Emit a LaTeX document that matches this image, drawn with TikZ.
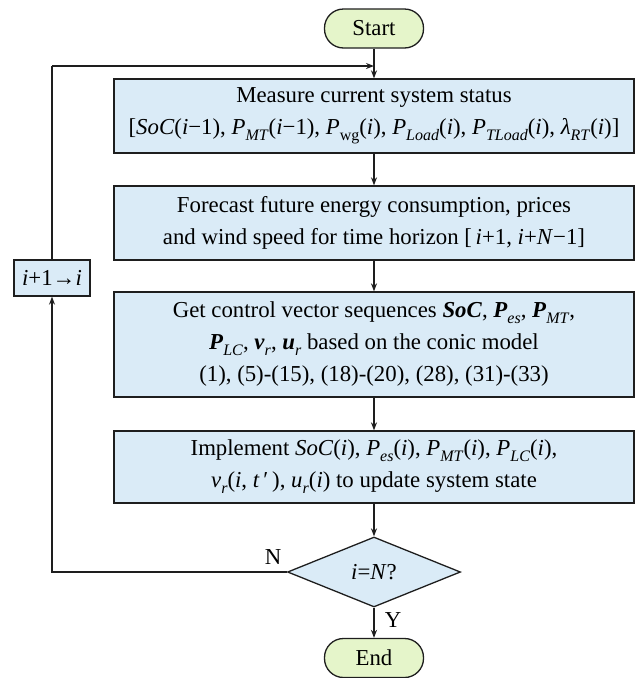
\documentclass[tikz,border=0pt]{standalone}
\usepackage{fontspec}
\setmainfont{Liberation Serif}
\usetikzlibrary{shapes.geometric,arrows.meta}

\definecolor{procfill}{RGB}{218,235,247}
\definecolor{termfill}{RGB}{229,245,202}
\definecolor{edgecol}{RGB}{30,30,30}

% italic symbol, bold italic symbol, lowered subscript
\newcommand\vv[1]{\textit{#1}}
\newcommand\bvv[1]{\textbf{\textit{#1}}}
\newcommand\sbs[1]{\raisebox{-0.26em}{\fontsize{16}{16}\selectfont #1}}

\tikzset{
  base/.style={draw=edgecol, line width=1.3pt, inner sep=0pt, align=center,
    font=\fontsize{22.8}{32}\selectfont},
  procbox/.style={base, rectangle, fill=procfill, minimum width=520pt},
  termbox/.style={base, rectangle, rounded corners=19pt, fill=termfill,
    minimum width=99pt, minimum height=39pt},
  decide/.style={base, diamond, fill=procfill, minimum width=173pt, minimum height=70pt},
  loopbox/.style={base, rectangle, fill=procfill, minimum width=76pt, minimum height=36pt},
  conn/.style={draw=edgecol, line width=1.3pt, -{Stealth[length=8pt,width=6pt]}},
  plain/.style={draw=edgecol, line width=1.3pt},
  tag/.style={font=\fontsize{22.8}{26}\selectfont, inner sep=0pt}
}

\begin{document}
\begin{tikzpicture}[x=1pt,y=-1pt]
\useasboundingbox (0,0) rectangle (636,678);

\node[termbox] (start) at (374,28.5) {Start};

\node[procbox, minimum height=74pt] (measure) at (374,116)
  {Measure current system status\\{}%
   [\vv{SoC}(\vv{i}−1), \vv{P}\sbs{\vv{MT}}(\vv{i}−1), \vv{P}\sbs{wg}(\vv{i}),
    \vv{P}\sbs{\vv{Load}}(\vv{i}), \vv{P}\sbs{\vv{TLoad}}(\vv{i}), \vv{λ}\sbs{\vv{RT}}(\vv{i})]};

\node[procbox, minimum height=74pt] (forecast) at (374,223)
  {Forecast future energy consumption, prices\\
   and wind speed for time horizon [\,\vv{i}+1, \vv{i}+\vv{N}−1]};

\node[procbox, minimum height=105pt] (control) at (374,344.5)
  {Get control vector sequences \bvv{SoC}, \bvv{P}\sbs{\vv{es}}, \bvv{P}\sbs{\vv{MT}},\\
   \bvv{P}\sbs{\vv{LC}}, \bvv{v}\sbs{\vv{r}}, \bvv{u}\sbs{\vv{r}} based on the conic model\\
   (1), (5)-(15), (18)-(20), (28), (31)-(33)};

\node[procbox, minimum height=72pt] (implement) at (374,467)
  {Implement \vv{SoC}(\vv{i}), \vv{P}\sbs{\vv{es}}(\vv{i}), \vv{P}\sbs{\vv{MT}}(\vv{i}), \vv{P}\sbs{\vv{LC}}(\vv{i}),\\
   \vv{v}\sbs{\vv{r}}(\vv{i}, \vv{t}\,′\,), \vv{u}\sbs{\vv{r}}(\vv{i}) to update system state};

\node[decide] (check) at (374,572) {\vv{i}=\vv{N}?};

\node[termbox] (finish) at (374,658) {End};

\node[loopbox] (incr) at (52,278) {\vv{i}+1→\vv{i}};

\coordinate (loopTop) at (52,66);
\coordinate (loopJoin) at (374,66);
\coordinate (loopBottom) at (52,572);

% main flow
\draw[conn] (start) -- (measure);
\draw[conn] (measure) -- (forecast);
\draw[conn] (forecast) -- (control);
\draw[conn] (control) -- (implement);
\draw[conn] (implement) -- (check);
\draw[conn] (check) -- (finish);

% feedback loop
\draw[conn] (check.west) -- (loopBottom) -- (incr.south);
\draw[plain] (incr.north) -- (loopTop);
\draw[conn] (loopTop) -- (loopJoin);

\node[tag] (nlabel) at (273,557) {N};
\node[tag] (ylabel) at (393,620) {Y};
\end{tikzpicture}
\end{document}
